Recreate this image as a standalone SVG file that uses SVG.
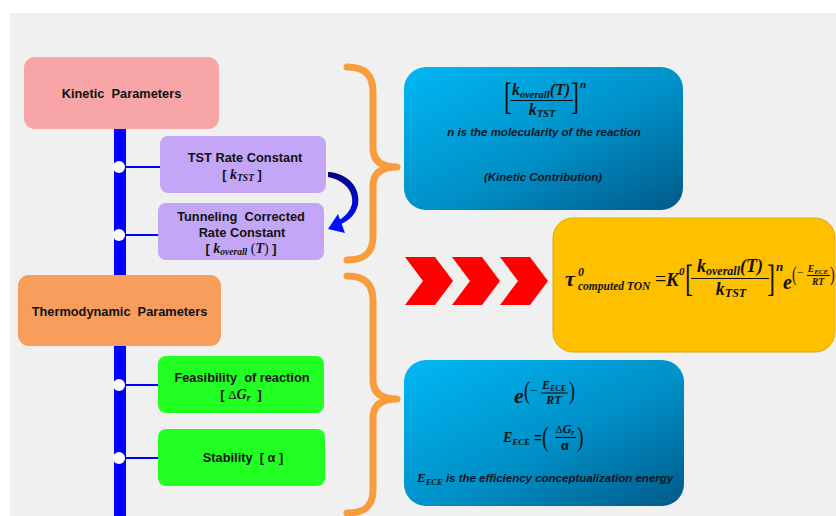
<svg xmlns="http://www.w3.org/2000/svg" width="836" height="516" viewBox="0 0 836 516">
  <defs>
    <style>
      .lbl{font-family:"Liberation Sans",Arial,sans-serif;font-weight:bold;font-size:12.8px;fill:#111;text-anchor:middle}
      .m{font-family:"Liberation Serif","Times New Roman",serif;font-weight:bold;font-style:italic;fill:#111}
      .mr{font-family:"Liberation Serif","Times New Roman",serif;font-weight:normal;fill:#111}
      .note{font-family:"Liberation Sans",Arial,sans-serif;font-weight:bold;font-style:italic;font-size:11.5px;fill:#0b1626;text-anchor:middle}
      .dot{fill:#ffffff}
      .stub{stroke:#0000ff;stroke-width:2}
      .brace{fill:none;stroke:#f99c3c;stroke-width:7;stroke-linecap:round;stroke-linejoin:round}
      .chev{fill:#ff0000}
      .bar{stroke:#111;stroke-width:1.1}
    </style>
    <linearGradient id="blueFill" x1="0" y1="0" x2="1" y2="1">
      <stop offset="0" stop-color="#00b8f4"/>
      <stop offset="0.55" stop-color="#0090c8"/>
      <stop offset="1" stop-color="#005a88"/>
    </linearGradient>
    <linearGradient id="arcFill" x1="0" y1="0" x2="0" y2="1">
      <stop offset="0" stop-color="#000080"/>
      <stop offset="1" stop-color="#0010ff"/>
    </linearGradient>
  </defs>

  <!-- canvas -->
  <rect x="0" y="0" width="836" height="516" fill="#ffffff"/>
  <rect x="10" y="13" width="826" height="503" fill="#f0f0f0"/>

  <!-- connectors: timeline spine, stubs, curved arrow, braces -->
  <g id="connectors">
    <rect x="114" y="128" width="12" height="388" fill="#0000ff"/>
    <line class="stub" x1="122" y1="167" x2="161" y2="167"/>
    <line class="stub" x1="122" y1="235" x2="159" y2="235"/>
    <line class="stub" x1="122" y1="385" x2="159" y2="385"/>
    <line class="stub" x1="122" y1="458" x2="159" y2="458"/>
    <circle class="dot" cx="119" cy="167" r="6"/>
    <circle class="dot" cx="119" cy="235" r="6"/>
    <circle class="dot" cx="119" cy="385" r="6"/>
    <circle class="dot" cx="119" cy="458" r="6"/>

    <path d="M328,172 C348,173 361,188 358,205 C355,216 348,221 341,224 L339,220 C346,216 350,211 352,204 C354,191 344,180 328,177 Z" fill="url(#arcFill)"/>
    <polygon points="328,229 338,214 345,233" fill="#0010ff"/>

    <path class="brace" d="M347,67 C365,67 373,75 373,92 L373,148 C373,160 380,167 397,167 C380,167 373,174 373,186 L373,236 C373,253 365,260 347,260"/>
    <path class="brace" d="M347,276 C365,276 373,284 373,301 L373,380 C373,392 380,399 397,399 C380,399 373,406 373,418 L373,490 C373,506 365,513 347,513"/>
  </g>

  <!-- flow chevrons -->
  <g id="chevrons">
    <polygon class="chev" points="405,257 435,257 453,281 435,305 405,305 423,281"/>
    <polygon class="chev" points="452,257 482,257 500,281 482,305 452,305 470,281"/>
    <polygon class="chev" points="500,257 530,257 548,281 530,305 500,305 518,281"/>
  </g>

  <g id="kinetic-parameters">
    <rect x="24" y="57" width="195" height="72" rx="11" fill="#f8a5a8"/>
    <text class="lbl" x="121.5" y="98" xml:space="preserve">Kinetic  Parameters</text>
  </g>

  <g id="tst-rate">
    <rect x="160" y="136" width="166" height="57" rx="8" fill="#c3a6f7"/>
    <text class="lbl" x="245" y="162">TST Rate Constant</text>
    <text class="lbl" x="242" y="179" xml:space="preserve">[ <tspan class="m" font-size="14">k</tspan><tspan class="m" font-size="9.5" dy="2">TST</tspan><tspan dy="-2"> ]</tspan></text>
  </g>

  <g id="tunneling-rate">
    <rect x="158" y="203" width="166" height="57" rx="8" fill="#c3a6f7"/>
    <text class="lbl" x="241" y="221" xml:space="preserve">Tunneling  Corrected</text>
    <text class="lbl" x="242" y="237">Rate Constant</text>
    <text class="lbl" x="241" y="253" xml:space="preserve">[ <tspan class="m" font-size="14">k</tspan><tspan class="m" font-size="9.5" dy="2">overall</tspan><tspan class="mr" font-size="14" dy="-2"> (</tspan><tspan class="m" font-size="14">T</tspan><tspan class="mr" font-size="14">)</tspan> ]</text>
  </g>

  <g id="thermodynamic-parameters">
    <rect x="18" y="275" width="203" height="71" rx="11" fill="#f89d5b"/>
    <text class="lbl" x="119.5" y="316" xml:space="preserve">Thermodynamic  Parameters</text>
  </g>

  <g id="feasibility">
    <rect x="158" y="356" width="166" height="57" rx="8" fill="#22ff22"/>
    <text class="lbl" x="242" y="382" xml:space="preserve">Feasibility  of reaction</text>
    <text class="lbl" x="241" y="399" xml:space="preserve">[ <tspan class="mr" font-size="13">Δ</tspan><tspan class="m" font-size="14">G</tspan><tspan class="m" font-size="9.5" dy="2">r</tspan><tspan dy="-2">  ]</tspan></text>
  </g>

  <g id="stability">
    <rect x="158" y="429" width="167" height="57" rx="8" fill="#22ff22"/>
    <text class="lbl" x="243" y="462" xml:space="preserve">Stability  [ α ]</text>
  </g>

  <g id="kinetic-contribution">
    <rect x="404" y="67" width="279" height="143" rx="22" fill="url(#blueFill)"/>
    <text class="mr" font-size="24" transform="translate(504,109) scale(1,1.6)">[</text>
    <text class="m" x="541" y="95" text-anchor="middle" font-size="16">k<tspan font-size="10.5" dy="3">overall</tspan><tspan dy="-3">(T)</tspan></text>
    <line class="bar" x1="510" y1="100.5" x2="573" y2="100.5"/>
    <text class="m" x="542" y="115" text-anchor="middle" font-size="16">k<tspan font-size="10.5" dy="2">TST</tspan></text>
    <text class="mr" font-size="24" transform="translate(571,109) scale(1,1.6)">]</text>
    <text class="m" x="580" y="88" font-size="11">n</text>
    <text class="note" x="544" y="136">n is the molecularity of the reaction</text>
    <text class="note" x="543" y="181">(Kinetic Contribution)</text>
  </g>

  <g id="turnover-equation">
    <rect x="553" y="218" width="282" height="134" rx="20" fill="#ffc000" stroke="#e0a800" stroke-width="1"/>
    <text class="m" x="565" y="286" font-size="22">τ</text>
    <text class="m" x="578" y="276" font-size="12">0</text>
    <text class="m" x="578" y="290" font-size="11.5">computed TON</text>
    <text class="mr" x="655" y="286" font-size="20">=</text>
    <text class="m" x="666" y="286" font-size="19">K</text>
    <text class="m" x="679" y="275" font-size="11">0</text>
    <text class="mr" font-size="24" transform="translate(685,291) scale(1,1.6)">[</text>
    <text class="m" x="730" y="272" text-anchor="middle" font-size="18">k<tspan font-size="12" dy="3">overall</tspan><tspan dy="-3">(T)</tspan></text>
    <line class="bar" x1="691" y1="278.5" x2="769" y2="278.5"/>
    <text class="m" x="731" y="295" text-anchor="middle" font-size="18">k<tspan font-size="12" dy="2">TST</tspan></text>
    <text class="mr" font-size="24" transform="translate(767,291) scale(1,1.6)">]</text>
    <text class="m" x="776" y="271" font-size="13">n</text>
    <text class="m" x="783" y="289" font-size="20">e</text>
    <text class="mr" font-size="14" transform="translate(792,281) scale(1,1.5)">(</text>
    <text class="mr" x="797" y="276" font-size="11">−</text>
    <text class="m" x="818" y="272" text-anchor="middle" font-size="9.5">E<tspan font-size="7" dy="2">ECE</tspan></text>
    <line class="bar" x1="807" y1="275.5" x2="830" y2="275.5" stroke-width="0.8"/>
    <text class="m" x="818" y="285" text-anchor="middle" font-size="9.5">RT</text>
    <text class="mr" font-size="14" transform="translate(830,281) scale(1,1.5)">)</text>
  </g>

  <g id="energy-contribution">
    <rect x="404" y="360" width="280" height="146" rx="22" fill="url(#blueFill)"/>
    <text class="m" x="514" y="403" font-size="22">e</text>
    <text class="mr" font-size="18" transform="translate(524,399) scale(1,1.4)">(</text>
    <text class="mr" x="530" y="395" font-size="13">−</text>
    <text class="m" x="554" y="389" text-anchor="middle" font-size="12">E<tspan font-size="8" dy="2">ECE</tspan></text>
    <line class="bar" x1="541" y1="393" x2="568" y2="393" stroke-width="0.9"/>
    <text class="m" x="554" y="404" text-anchor="middle" font-size="12">RT</text>
    <text class="mr" font-size="18" transform="translate(569,399) scale(1,1.4)">)</text>

    <text class="m" x="503" y="442" font-size="14">E<tspan font-size="9" dy="3">ECE</tspan></text>
    <text class="lbl" x="538" y="442" font-size="13">=</text>
    <text class="mr" font-size="20" transform="translate(542,446) scale(1,1.35)">(</text>
    <text class="mr" x="565" y="433" text-anchor="middle" font-size="11">Δ<tspan class="m" font-size="12">G</tspan><tspan class="m" font-size="8" dy="2">r</tspan></text>
    <line class="bar" x1="555" y1="437.5" x2="576" y2="437.5" stroke-width="0.9"/>
    <text class="lbl" x="565" y="450" font-size="15">α</text>
    <text class="mr" font-size="20" transform="translate(577,446) scale(1,1.35)">)</text>

    <text x="417" y="482" xml:space="preserve"><tspan class="m" font-size="13">E</tspan><tspan class="m" font-size="8.5" dy="3">ECE</tspan><tspan class="note" dy="-3" style="text-anchor:start"> is the efficiency conceptualization energy</tspan></text>
  </g>
</svg>
